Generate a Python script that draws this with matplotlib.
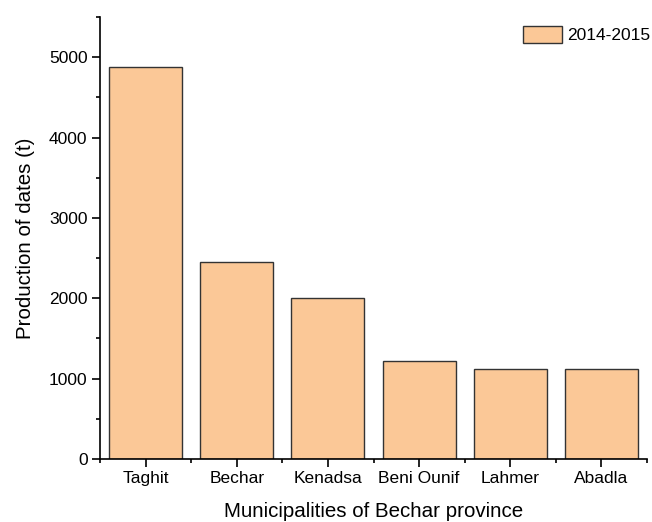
import matplotlib.pyplot as plt
import numpy as np

plt.rcParams['font.family'] = ['Liberation Sans', 'DejaVu Sans']

municipalities = ['Taghit', 'Bechar', 'Kenadsa', 'Beni Ounif', 'Lahmer', 'Abadla']
production = [4880, 2450, 2000, 1225, 1115, 1115]

fig = plt.figure(figsize=(6.52, 5.22), dpi=100)
ax = fig.add_axes([0.1534, 0.1207, 0.839, 0.8467])

x = np.arange(len(municipalities))
ax.bar(x, production, width=0.8, color='#fbc897', edgecolor='#333333',
       linewidth=1.0, label='2014-2015')

ax.set_xlim(-0.5, 5.5)
ax.set_ylim(0, 5500)
ax.set_xticks(x)
ax.set_xticklabels(municipalities)
ax.set_xticks(np.arange(-0.5, 6, 1), minor=True)
ax.set_yticks(np.arange(0, 5001, 1000))
ax.set_yticks(np.arange(500, 5501, 1000), minor=True)

for s in ['top', 'right']:
    ax.spines[s].set_visible(False)
for s in ['left', 'bottom']:
    ax.spines[s].set_linewidth(1.2)

ax.tick_params(which='major', direction='out', length=5.5, width=1.2, labelsize=12.5)
ax.tick_params(which='minor', direction='out', length=2.8, width=1.2)

ax.set_xlabel('Municipalities of Bechar province', fontsize=14.8, labelpad=11)
ax.set_ylabel('Production of dates (t)', fontsize=14.8, labelpad=10)

ax.legend(loc='upper right', frameon=False, fontsize=12.5, handlelength=2.25,
          handleheight=1.1, handletextpad=0.3, borderaxespad=0.2,
          bbox_to_anchor=(1.025, 1.003))

fig.savefig('out.png', dpi=100)
